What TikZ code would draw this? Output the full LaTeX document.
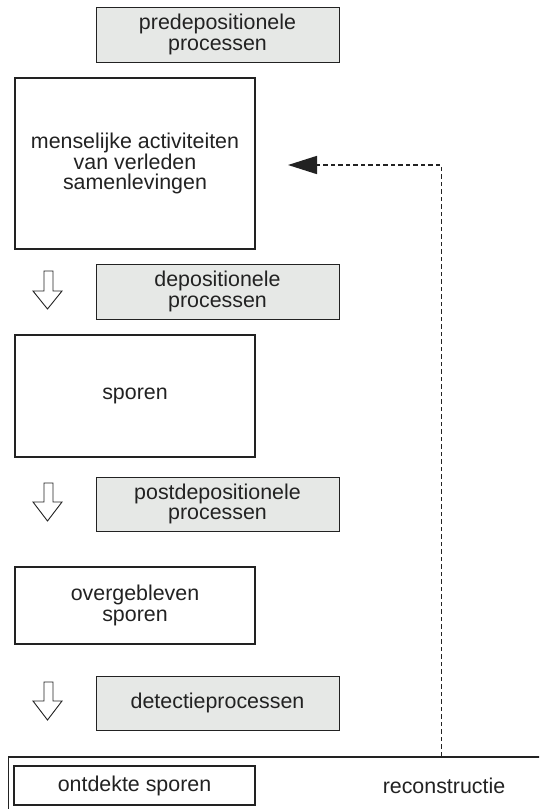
\documentclass[tikz,border=0pt]{standalone}
\usepackage{fontspec}
\setmainfont{Liberation Sans}
\usetikzlibrary{arrows.meta}
\definecolor{boxgray}{HTML}{E6E8E6}
\definecolor{ink}{HTML}{222222}
\begin{document}
\begin{tikzpicture}[x=1pt,y=-1pt,
  every node/.style={font=\fontsize{21.4}{20.8}\selectfont, text=ink, align=center, inner sep=0pt},
  procbox/.style={draw=ink, line width=1pt, fill=boxgray, minimum width=243pt},
  statebox/.style={draw=ink, line width=2pt, fill=white, minimum width=240pt},
  hollow/.style={draw=ink, line width=0.9pt, fill=white, line join=miter},
  feedback/.style={draw=ink, line width=1.6pt, dash pattern=on 4.5pt off 3pt,
    -{Triangle[length=29pt,width=18pt,fill=ink]}}
]
\useasboundingbox (0,0) rectangle (539,809);
\clip (0,0) rectangle (539,809);
\fill[white] (0,0) rectangle (539,809);

% process boxes
\node[procbox, minimum height=55pt] (pre)  at (217.5,34.5) {predepositionele\\processen};
\node[procbox, minimum height=55pt] (dep)  at (217.5,291.5) {depositionele\\processen};
\node[procbox, minimum height=54pt] (post) at (217.5,504) {postdepositionele\\processen};
\node[procbox, minimum height=54pt] (det)  at (217.5,703) {detectieprocessen};

% state boxes
\node[statebox, minimum height=171pt] (mens) at (135,163.5) {menselijke activiteiten\\van verleden\\samenlevingen};
\node[statebox, minimum height=122pt] (spor) at (135,396) {sporen};
\node[statebox, minimum height=77pt]  (over) at (135,605.5) {overgebleven\\sporen};

% reconstruction frame (open to the right and bottom)
\node[draw=ink, line width=1.6pt, minimum width=560pt, minimum height=80pt, anchor=north west] (frame) at (7.5,756) {};
\node[statebox, minimum width=241pt, minimum height=39pt] (ontd) at (134.5,785.5) {ontdekte sporen};
\node (recon) at (444,786) {reconstructie};

% hollow down arrows
\foreach \t/\h/\b in {271/291/309, 483/502/521, 682/701/720}{
  \draw[hollow] (44,\t) -- (53,\t) -- (53,\h) -- (62,\h) -- (47.5,\b) -- (33,\h) -- (44,\h) -- cycle;
}

% feedback connector
\coordinate (fbstart) at (441.5,756);
\coordinate (fbend) at (288,165);
\draw[feedback] (fbstart) |- (fbend);
\end{tikzpicture}
\end{document}
